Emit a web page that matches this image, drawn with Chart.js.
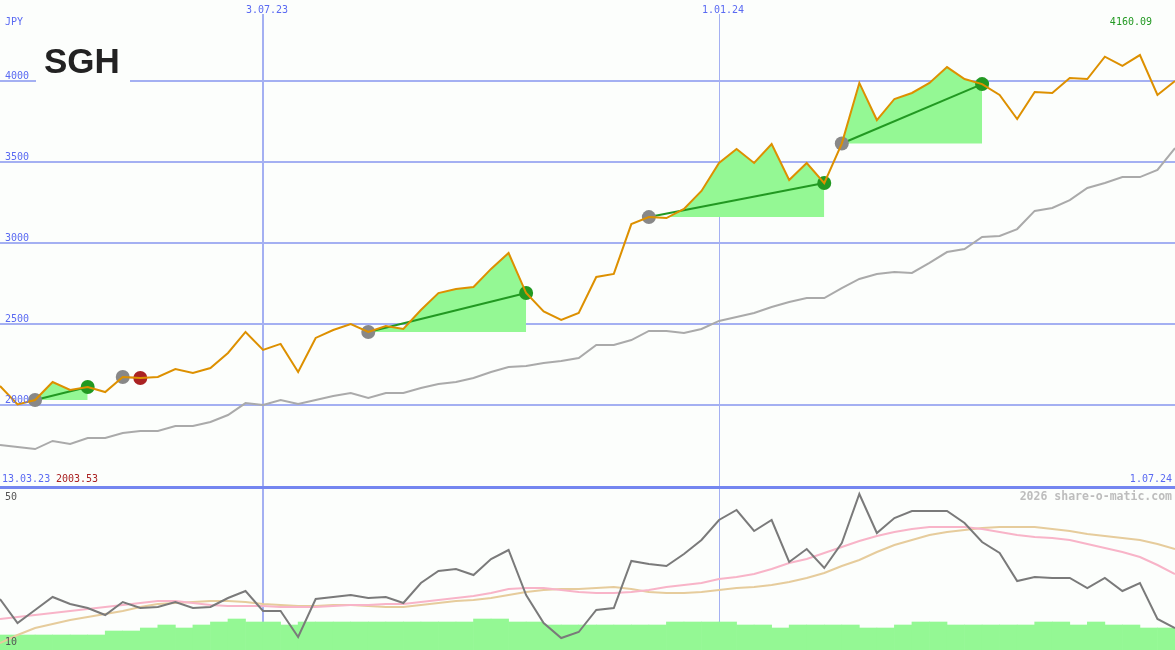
<!DOCTYPE html>
<html>
<head>
<meta charset="utf-8">
<title>SGH</title>
<script src="https://cdn.jsdelivr.net/npm/chart.js"></script>
<style>
html, body { margin: 0; padding: 0; background: #fcfefc; overflow: hidden; }
#wrap { width: 1175px; height: 650px; }
</style>
</head>
<body>
<div id="wrap"><canvas id="chart" width="1175" height="650"></canvas></div>
<script>
// SGH weekly closes in JPY, one value per week
const prices = [
    2117, 2003.53, 2031, 2142, 2093, 2111, 2080, 2173, 2167, 2173,
    2222, 2198, 2228, 2321, 2451, 2340, 2377, 2204, 2414, 2463,
    2500, 2451, 2488, 2469, 2586, 2691, 2716, 2728, 2840, 2938,
    2691, 2577, 2525, 2568, 2790, 2809, 3117, 3160, 3154, 3210,
    3321, 3494, 3580, 3494, 3611, 3389, 3494, 3370, 3614, 3988,
    3759, 3889, 3926, 3988, 4086, 4012, 3981, 3914, 3765, 3932,
    3926, 4019, 4012, 4150, 4093, 4160.09, 3914, 4000
];
// long moving average (grey)
const avgLine = [
    1753, 1741, 1728, 1778, 1759, 1796, 1796, 1827, 1840, 1840,
    1870, 1870, 1895, 1938, 2012, 2000, 2031, 2006, 2031, 2056,
    2074, 2043, 2074, 2074, 2105, 2130, 2142, 2167, 2204, 2235,
    2241, 2259, 2272, 2290, 2370, 2370, 2401, 2457, 2457, 2444,
    2469, 2519, 2543, 2568, 2605, 2636, 2660, 2660, 2722, 2778,
    2809, 2821, 2815, 2877, 2944, 2963, 3037, 3043, 3086, 3198,
    3216, 3265, 3340, 3370, 3407, 3407, 3451, 3586
];
// lower panel oscillator and its two averages
const oscLine = [
    22.75, 16.75, 20, 23.25, 21.5, 20.5, 18.75, 22, 20.5, 20.75,
    22, 20.5, 20.75, 23, 24.75, 19.75, 19.75, 13.25, 22.75, 23.25,
    23.75, 23, 23.25, 21.75, 26.75, 29.75, 30.25, 28.75, 32.75, 35,
    23.75, 16.75, 13, 14.5, 20, 20.5, 32.25, 31.5, 31, 34,
    37.5, 42.5, 45, 39.75, 42.5, 32, 35.25, 30.5, 36.75, 49,
    39.25, 43, 44.75, 44.75, 44.75, 41.75, 37, 34.25, 27.25, 28.25,
    28, 28, 25.5, 28, 24.75, 26.75, 17.75, 15.5
];
const oscPink = [
    17.75, 18.25, 18.75, 19.25, 19.75, 20.25, 20.75, 21.25, 21.75, 22.25,
    22.25, 21.75, 21.25, 21, 21, 21, 20.75, 20.75, 20.75, 21,
    21.25, 21.25, 21.5, 21.5, 22, 22.5, 23, 23.5, 24.25, 25.25,
    25.5, 25.5, 25, 24.5, 24.25, 24.25, 24.5, 25, 25.75, 26.25,
    26.75, 27.75, 28.25, 29, 30.25, 31.75, 32.75, 34.25, 35.75, 37.25,
    38.5, 39.5, 40.25, 40.75, 40.75, 40.75, 40.25, 39.5, 38.75, 38.25,
    38, 37.5, 36.5, 35.5, 34.5, 33.25, 31.25, 29
];
const oscTan = [
    11.75, 13.75, 15.5, 16.5, 17.5, 18.25, 19, 19.75, 20.75, 21.5,
    21.75, 22, 22.25, 22.25, 22, 21.5, 21.25, 21, 21, 21.25,
    21.25, 21, 20.75, 20.75, 21.25, 21.75, 22.25, 22.5, 23, 23.75,
    24.5, 25, 25.25, 25.25, 25.5, 25.75, 25.25, 24.5, 24.25, 24.25,
    24.5, 25, 25.5, 25.75, 26.25, 27, 28, 29.25, 31, 32.5,
    34.5, 36.25, 37.5, 38.75, 39.5, 40, 40.5, 40.75, 40.75, 40.75,
    40.25, 39.75, 39, 38.5, 38, 37.5, 36.5, 35.25
];
// volume per week (relative)
const volume = [
    15, 15, 15, 15, 15, 15, 19, 19, 22, 25,
    22, 25, 28, 31, 28, 28, 25, 28, 28, 28,
    28, 28, 28, 28, 28, 28, 28, 31, 31, 28,
    28, 25, 25, 25, 25, 25, 25, 25, 28, 28,
    28, 28, 25, 25, 22, 25, 25, 25, 25, 22,
    22, 25, 28, 28, 25, 25, 25, 25, 25, 28,
    28, 25, 28, 25, 25, 22, 22
];
// trades: week index of entry and exit
const entryWeeks = [2, 7, 21, 37, 48];
const exitWeeks = [5, 8, 30, 47, 56];

const priceTicks = [2000, 2500, 3000, 3500, 4000];
const dateLabels = ["3.07.23", "1.01.24"];
const dateWeeks = [15, 41];
const firstDate = "13.03.23";
const lastDate = "1.07.24";
const oscTicks = [50, 10];

const BG = "#fcfefc";
const BLUE_TXT = "#5a6af2";
const GREEN_FILL = "#94f894";
const panelTop = 487;

let chart;

function fmt(v) {
    return v.toFixed(2);
}

function buildDatasets() {
    let sets = [];
    const weeks = prices.map((p, i) => i);

    sets.push({
        type: "bar",
        data: volume.map((v, i) => ({ x: i + 0.5, y: v })),
        yAxisID: "yv",
        backgroundColor: GREEN_FILL,
        borderWidth: 0,
        barPercentage: 1,
        categoryPercentage: 1,
        order: 20
    });

    sets.push({ data: weeks.map(i => ({ x: i, y: oscTan[i] })), yAxisID: "yi", borderColor: "#e6cc9c", borderWidth: 2, order: 19 });
    sets.push({ data: weeks.map(i => ({ x: i, y: oscPink[i] })), yAxisID: "yi", borderColor: "#f8b4c8", borderWidth: 2, order: 18 });
    sets.push({ data: weeks.map(i => ({ x: i, y: oscLine[i] })), yAxisID: "yi", borderColor: "#7a7a7a", borderWidth: 2, order: 17 });

    // trade fills: price above entry level
    entryWeeks.forEach((e, k) => {
        let x = exitWeeks[k];
        let win = prices[x] >= prices[e];
        let pts = [];
        for (let i = e; i <= x; i++) pts.push({ x: i, y: prices[i] });
        sets.push({
            data: pts,
            yAxisID: "y",
            borderWidth: 0,
            borderColor: "rgba(0,0,0,0)",
            backgroundColor: win ? GREEN_FILL : "#f8c0c0",
            fill: { value: prices[e] },
            order: 16
        });
    });

    sets.push({ data: weeks.map(i => ({ x: i, y: avgLine[i] })), yAxisID: "y", borderColor: "#aaaaaa", borderWidth: 2, order: 15 });

    entryWeeks.forEach((e, k) => {
        let x = exitWeeks[k];
        let win = prices[x] >= prices[e];
        sets.push({
            data: [{ x: e, y: prices[e] }, { x: x, y: prices[x] }],
            yAxisID: "y",
            borderColor: win ? "#229922" : "#f4a4a4",
            borderWidth: 2,
            order: 14
        });
    });

    let dots = [], dotColors = [];
    entryWeeks.forEach((e, k) => {
        let x = exitWeeks[k];
        dots.push({ x: e, y: prices[e] });
        dotColors.push("#888888");
        dots.push({ x: x, y: prices[x] });
        dotColors.push(prices[x] >= prices[e] ? "#229922" : "#aa2222");
    });
    sets.push({
        data: dots,
        yAxisID: "y",
        showLine: false,
        pointRadius: 7,
        pointBackgroundColor: dotColors,
        pointBorderWidth: 0,
        order: 13
    });

    sets.push({ data: weeks.map(i => ({ x: i, y: prices[i] })), yAxisID: "y", borderColor: "#dd9000", borderWidth: 2, order: 12 });
    return sets;
}

const decor = {
    id: "decor",
    beforeDraw(c) {
        const ctx = c.ctx;
        ctx.save();
        ctx.fillStyle = BG;
        ctx.fillRect(0, 0, c.width, c.height);
        ctx.restore();
    },
    beforeDatasetsDraw(c) {
        const ctx = c.ctx;
        const xs = c.scales.x, ys = c.scales.y;
        ctx.save();
        ctx.strokeStyle = "#a4b0f2";
        ctx.lineWidth = 2;
        priceTicks.forEach(v => {
            let py = Math.round(ys.getPixelForValue(v));
            ctx.beginPath();
            ctx.moveTo(0, py);
            ctx.lineTo(c.width, py);
            ctx.stroke();
        });
        dateWeeks.forEach((w, i) => {
            let px = Math.round(xs.getPixelForValue(w)) + (i === 0 ? 0 : 0.5);
            ctx.lineWidth = i === 0 ? 2 : 1;
            ctx.beginPath();
            ctx.moveTo(px, 14);
            ctx.lineTo(px, c.height);
            ctx.stroke();
        });
        ctx.strokeStyle = "#7486f0";
        ctx.lineWidth = 3;
        ctx.beginPath();
        ctx.moveTo(0, panelTop + 0.5);
        ctx.lineTo(c.width, panelTop + 0.5);
        ctx.stroke();

        // logo box
        ctx.fillStyle = BG;
        ctx.fillRect(36, 36, 94, 50);
        ctx.fillStyle = "#222222";
        ctx.font = "bold 35px 'Liberation Sans', Arial, sans-serif";
        ctx.textBaseline = "alphabetic";
        ctx.fillText("SGH", 44, 73);
        ctx.restore();
    },
    afterDatasetsDraw(c) {
        const ctx = c.ctx;
        const xs = c.scales.x, ys = c.scales.y;
        ctx.save();
        ctx.font = "10px 'DejaVu Sans Mono', monospace";
        ctx.textBaseline = "alphabetic";
        ctx.fillStyle = BLUE_TXT;
        ctx.textAlign = "left";
        ctx.fillText("JPY", 5, 25);
        priceTicks.forEach(v => {
            ctx.fillText(String(v), 5, Math.round(ys.getPixelForValue(v)) - 2);
        });
        ctx.textAlign = "center";
        dateWeeks.forEach((w, i) => {
            ctx.fillText(dateLabels[i], xs.getPixelForValue(w) + 4, 13);
        });
        ctx.textAlign = "left";
        ctx.fillText(firstDate, 2, 482);
        let minP = Math.min(...prices), maxP = Math.max(...prices);
        ctx.fillStyle = "#aa2222";
        ctx.fillText(fmt(minP), 56, 482);
        ctx.fillStyle = BLUE_TXT;
        ctx.textAlign = "right";
        ctx.fillText(lastDate, 1172, 482);
        ctx.fillStyle = "#229922";
        ctx.fillText(fmt(maxP), 1152, 25);

        ctx.fillStyle = "#555555";
        ctx.textAlign = "left";
        ctx.fillText(String(oscTicks[0]), 5, 500);
        ctx.fillText(String(oscTicks[1]), 5, 645);

        ctx.fillStyle = "#bdbdbd";
        ctx.font = "bold 11.5px 'DejaVu Sans Mono', monospace";
        ctx.textAlign = "right";
        ctx.fillText("2026 share-o-matic.com", 1172, 500);
        ctx.restore();
    }
};

function drawChart() {
    const ctx = document.getElementById("chart").getContext("2d");
    chart = new Chart(ctx, {
        type: "line",
        data: { datasets: buildDatasets() },
        options: {
            responsive: false,
            devicePixelRatio: 1,
            animation: false,
            layout: { padding: 0, autoPadding: false },
            elements: {
                line: { tension: 0, fill: false },
                point: { radius: 0, hoverRadius: 0 }
            },
            plugins: {
                legend: { display: false },
                tooltip: { enabled: false },
                decor: {}
            },
            scales: {
                x: { type: "linear", min: 0, max: 67, offset: false, display: false },
                y: { type: "linear", min: 487.65, max: 4500, display: false },
                yi: { type: "linear", min: 10, max: 172.5, display: false },
                yv: { type: "linear", min: 0, max: 650, display: false }
            }
        },
        plugins: [decor]
    });
}

drawChart();
</script>
</body>
</html>
